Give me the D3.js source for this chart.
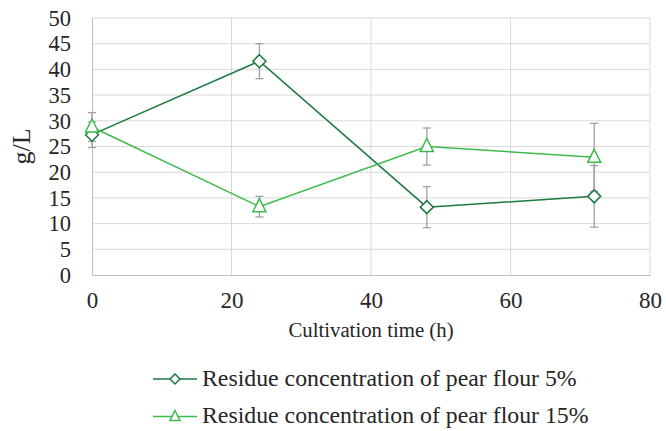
<!DOCTYPE html>
<html><head><meta charset="utf-8">
<script src="https://cdn.jsdelivr.net/npm/d3@7"></script>
<style>body{margin:0;background:#fff}svg{display:block}</style>
</head><body><svg id="c" width="666" height="431" font-family="Liberation Serif, DejaVu Serif, serif"></svg>
<script>
const hours = [0, 24, 48, 72];
const flour5 = [27.3, 41.6, 13.2, 15.3];
const flour5Err = [2.5, 3.4, 4.0, 6.0];
const flour15 = [28.8, 13.3, 25.0, 22.9];
const flour15Err = [2.8, 2.0, 3.6, 6.6];
const xTicks = [0, 20, 40, 60, 80];
const yTicks = [0, 5, 10, 15, 20, 25, 30, 35, 40, 45, 50];
const seriesNames = ["Residue concentration of pear flour 5%", "Residue concentration of pear flour 15%"];

const FONT = "'Liberation Serif', 'DejaVu Serif', serif";
const svg = d3.select("#c");
const L = 92, R = 650, T = 18, B = 275;
const x = d3.scaleLinear().domain([0, 80]).range([L, R]);
const y = d3.scaleLinear().domain([0, 50]).range([B, T]);
const grid = "#d9d9d9", axisCol = "#bfbfbf", errCol = "#a0a0a0";
const dark = "#1b7a3e", light = "#3dba4c";

function txt(sel, size) {
  sel.style("font-family", FONT).style("font-size", size + "px").attr("fill", "#262626");
}

// gridlines
svg.append("g").selectAll("line").data(yTicks.filter(d => d > 0)).join("line")
  .attr("x1", L).attr("x2", R).attr("y1", d => y(d)).attr("y2", d => y(d))
  .attr("stroke", grid).attr("stroke-width", 1);
svg.append("g").selectAll("line").data(xTicks.filter(d => d > 0)).join("line")
  .attr("x1", d => x(d)).attr("x2", d => x(d)).attr("y1", T).attr("y2", B)
  .attr("stroke", grid).attr("stroke-width", 1);

// axes
const yAxis = svg.append("g").attr("transform", `translate(${L},0)`)
  .call(d3.axisLeft(y).tickValues(yTicks).tickSize(0).tickPadding(21));
yAxis.attr("font-family", null);
yAxis.select(".domain").attr("stroke", axisCol);
txt(yAxis.selectAll("text"), 22.5);
const xAxis = svg.append("g").attr("transform", `translate(0,${B})`)
  .call(d3.axisBottom(x).tickValues(xTicks).tickSize(0).tickPadding(17));
xAxis.attr("font-family", null);
xAxis.select(".domain").attr("stroke", axisCol);
txt(xAxis.selectAll("text"), 23);

txt(svg.append("text").attr("x", (L + R) / 2).attr("y", 337).attr("text-anchor", "middle")
  .text("Cultivation time (h)"), 20.8);
txt(svg.append("text").attr("transform", `translate(30,${(T + B) / 2}) rotate(-90)`)
  .attr("text-anchor", "middle").text("g/L"), 26);

const series = [
  {vals: flour5, errs: flour5Err, color: dark, shape: "diamond"},
  {vals: flour15, errs: flour15Err, color: light, shape: "triangle"}
];
const diamondPath = "M0,-6.5L6.5,0L0,6.5L-6.5,0Z";
const triPath = "M0,-8L6.5,5L-6.5,5Z";

// error bars
series.forEach(s => {
  const g = svg.append("g").attr("stroke", errCol).attr("stroke-width", 1.3);
  hours.forEach((h, i) => {
    const top = y(s.vals[i] + s.errs[i]), bot = y(s.vals[i] - s.errs[i]), cx = x(h);
    g.append("line").attr("x1", cx).attr("x2", cx).attr("y1", top).attr("y2", bot);
    g.append("line").attr("x1", cx - 4).attr("x2", cx + 4).attr("y1", top).attr("y2", top);
    g.append("line").attr("x1", cx - 4).attr("x2", cx + 4).attr("y1", bot).attr("y2", bot);
  });
});
// lines
const line = d3.line().x((d, i) => x(hours[i])).y(d => y(d));
series.forEach(s => {
  svg.append("path").datum(s.vals).attr("d", line).attr("fill", "none")
    .attr("stroke", s.color).attr("stroke-width", 1.5);
});
// markers
series.forEach(s => {
  svg.append("g").selectAll("path").data(s.vals).join("path")
    .attr("d", s.shape === "diamond" ? diamondPath : triPath)
    .attr("transform", (d, i) => `translate(${x(hours[i])},${y(d)})`)
    .attr("fill", "#fff").attr("stroke", s.color).attr("stroke-width", 1.5);
});

// legend
const legY = [379, 416.5];
series.forEach((s, i) => {
  const g = svg.append("g");
  g.append("line").attr("x1", 153).attr("x2", 197).attr("y1", legY[i]).attr("y2", legY[i])
    .attr("stroke", s.color).attr("stroke-width", 1.5);
  g.append("path").attr("d", s.shape === "diamond" ? "M0,-5L5,0L0,5L-5,0Z" : "M0,-6L5,4L-5,4Z")
    .attr("transform", `translate(175,${legY[i]})`).attr("fill", "#fff")
    .attr("stroke", s.color).attr("stroke-width", 1.5);
  txt(g.append("text").attr("x", 202).attr("y", legY[i] + 6.5).text(seriesNames[i]), 23.8);
});
</script></body></html>
